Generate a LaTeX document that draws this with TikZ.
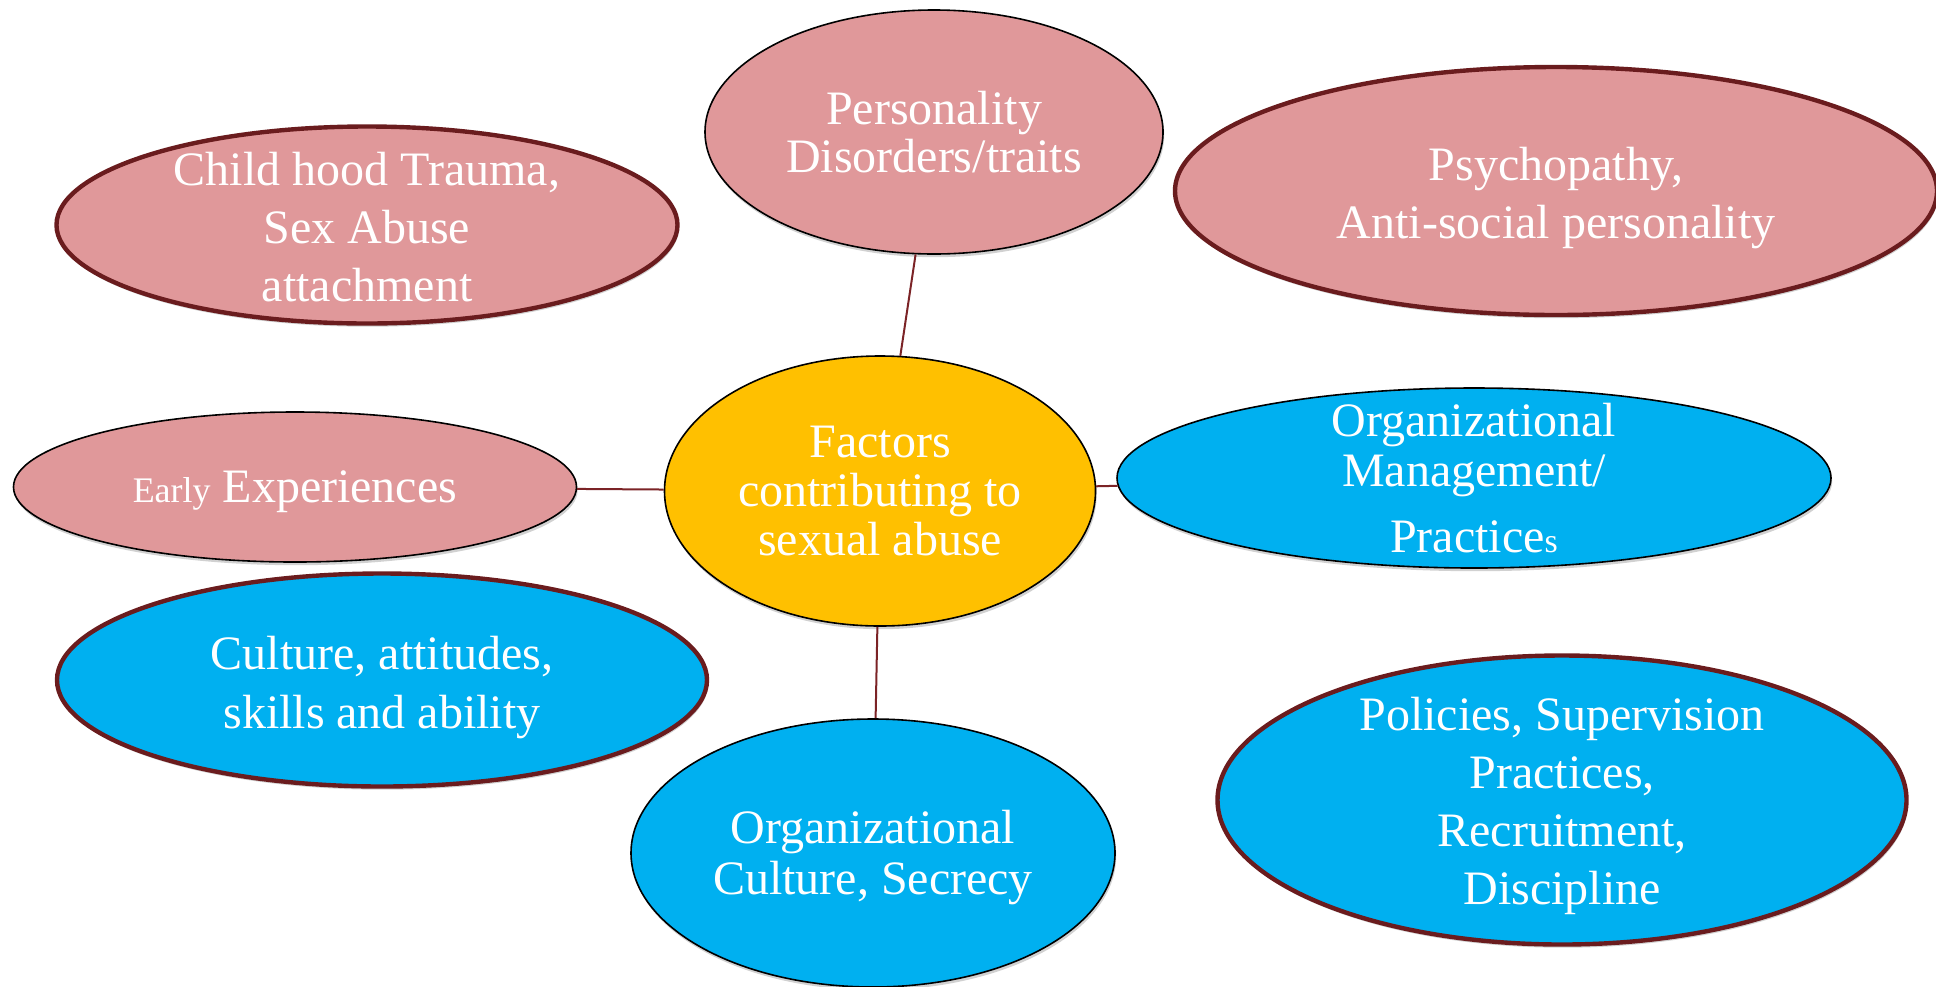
\documentclass[tikz,border=0pt]{standalone}
\usepackage{fontspec}
\setmainfont{Liberation Serif}
\usetikzlibrary{shapes.geometric,shadows}
\definecolor{pinkfill}{HTML}{E0989A}
\definecolor{bluefill}{HTML}{00B0F0}
\definecolor{orangefill}{HTML}{FFC000}
\definecolor{darkrim}{HTML}{6A1C1E}
\definecolor{linkcol}{HTML}{7B2326}
\newcommand{\topstrut}[1]{\rule{0pt}{#1}}
\tikzset{
  bubble/.style={ellipse, inner sep=0pt, align=center, text=white,
    font=\fontsize{24pt}{29pt}\selectfont,
    drop shadow={shadow xshift=0.6pt, shadow yshift=-1.6pt, opacity=0.18, fill=black}},
  thickrim/.style={draw=darkrim, line width=2.2pt},
  thinrim/.style={draw=black, line width=0.8pt},
  pinkb/.style={bubble, fill=pinkfill},
  blueb/.style={bubble, fill=bluefill},
  orangeb/.style={bubble, fill=orangefill},
  link/.style={draw=linkcol, line width=1pt}
}
\begin{document}
\begin{tikzpicture}[x=0.5pt,y=-0.5pt]
\useasboundingbox (0,0) rectangle (1936,986);

\node[pinkb, thickrim, minimum width=310.5pt, minimum height=98.5pt, inner ysep=-10pt] (child) at (367,225)
  {\topstrut{19pt}Child hood Trauma,\\Sex Abuse\\attachment};
\node[pinkb, thinrim, minimum width=229pt, minimum height=122pt,
  font=\fontsize{24pt}{24pt}\selectfont] (pers) at (934,132)
  {Personality\\Disorders/traits};
\node[pinkb, thickrim, minimum width=381pt, minimum height=124pt] (psych) at (1556,191)
  {\topstrut{24pt}Psychopathy,\\Anti-social personality};
\node[pinkb, thinrim, minimum width=281.5pt, minimum height=75pt] (early) at (295,487)
  {\topstrut{20.5pt}{\fontsize{18pt}{20pt}\selectfont Early} Experiences};
\node[orangeb, thinrim, minimum width=215.5pt, minimum height=135pt,
  font=\fontsize{24pt}{24.5pt}\selectfont] (center) at (880,491)
  {Factors\\contributing to\\sexual abuse};
\node[blueb, thinrim, minimum width=357pt, minimum height=90pt, inner ysep=-12pt,
  font=\fontsize{24pt}{25pt}\selectfont] (mgmt) at (1474,478)
  {Organizational\\Management/\\[8pt]Practice{\fontsize{17pt}{20pt}\selectfont s}};
\node[blueb, thickrim, minimum width=325pt, minimum height=106.5pt,
  font=\fontsize{24pt}{29.5pt}\selectfont] (culture) at (382,680)
  {\topstrut{24pt}Culture, attitudes,\\skills and ability};
\node[blueb, thinrim, minimum width=242pt, minimum height=134pt,
  font=\fontsize{24pt}{25.5pt}\selectfont] (orgcult) at (873,853)
  {\topstrut{21.6pt}Organizational\\Culture, Secrecy};
\node[blueb, thickrim, minimum width=344.5pt, minimum height=144.5pt, inner ysep=-10pt] (policies) at (1562,800)
  {\topstrut{23pt}Policies, Supervision\\Practices,\\Recruitment,\\Discipline};

\path[link] (pers) -- (center);
\path[link] (early) -- (center);
\path[link] (center) -- (mgmt);
\path[link] (center) -- (orgcult);
\end{tikzpicture}
\end{document}
